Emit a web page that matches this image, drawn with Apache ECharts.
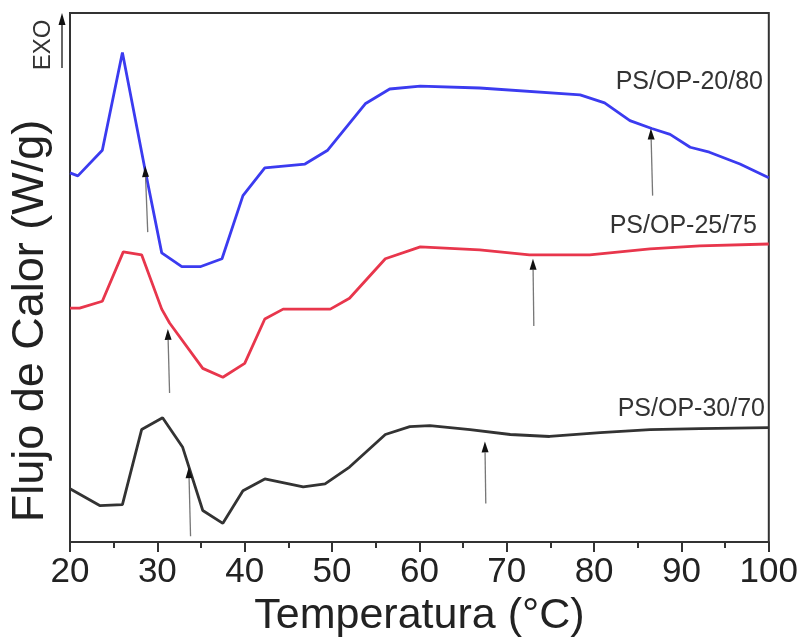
<!DOCTYPE html>
<html>
<head>
<meta charset="utf-8">
<script src="https://cdn.jsdelivr.net/npm/echarts@6/dist/echarts.min.js"></script>
<style>html,body{margin:0;padding:0;background:#fff}#c{width:801px;height:643px}</style>
</head>
<body>
<div id="c"></div>
<script>
// Temperature (°C) and heat flow (arbitrary offset units) for each sample
const tBlue  = [20.0,20.9,23.7,26.0,28.6,30.5,32.8,34.9,37.4,39.8,42.3,46.9,49.5,53.8,56.6,60.1,66.9,78.4,81.2,84.1,86.6,88.7,91.0,93.2,96.7,100];
const yBlue  = [3.74,3.71,3.97,4.96,3.77,2.93,2.79,2.79,2.87,3.51,3.79,3.83,3.97,4.44,4.59,4.62,4.60,4.53,4.45,4.27,4.19,4.13,4.00,3.95,3.83,3.69];

const tRed   = [20.0,21.1,23.7,26.1,28.2,30.5,31.4,35.2,37.5,40.0,42.3,44.4,49.8,52.0,56.1,60.1,66.9,72.6,79.5,86.4,92.1,100];
const yRed   = [2.37,2.37,2.44,2.94,2.91,2.36,2.22,1.76,1.67,1.81,2.26,2.36,2.36,2.47,2.87,2.99,2.96,2.91,2.91,2.97,3.00,3.02];

const tBlack = [20.0,23.4,26.0,28.2,30.6,32.9,35.2,37.5,39.8,42.3,46.7,49.2,52.0,56.1,58.9,61.2,65.8,70.4,74.9,80.7,86.4,92.1,100];
const yBlack = [0.54,0.37,0.38,1.14,1.26,0.96,0.32,0.19,0.52,0.64,0.56,0.59,0.76,1.09,1.17,1.18,1.14,1.09,1.07,1.11,1.14,1.15,1.16];

// Transition arrows: [tail T, tail y, head T, head y]
const arrows = [
  [28.9,3.14,28.6,3.81],
  [86.7,3.51,86.5,4.19],
  [31.4,1.51,31.2,2.16],
  [73.1,2.19,73.0,2.87],
  [33.8,0.06,33.6,0.76],
  [67.6,0.39,67.5,1.02]
];

const seriesNames = ['PS/OP-20/80','PS/OP-25/75','PS/OP-30/70'];
const xTicks = [20,30,40,50,60,70,80,90,100];

const zip = (a,b) => a.map((v,i)=>[v,b[i]]);
const FONT = '"Liberation Sans", Arial, sans-serif';

const chart = echarts.init(document.getElementById('c'));
chart.setOption({
  backgroundColor:'#fff',
  animation:false,
  grid:{left:70,right:32,top:13,bottom:94,show:true,borderColor:'#333',borderWidth:2,backgroundColor:'transparent'},
  xAxis:{
    type:'value',min:xTicks[0],max:xTicks[xTicks.length-1],interval:10,
    axisLine:{lineStyle:{color:'#333',width:2}},
    axisTick:{show:true,inside:false,length:10,lineStyle:{color:'#333',width:2}},
    minorTick:{show:true,splitNumber:2,length:6,lineStyle:{color:'#333',width:2}},
    splitLine:{show:false},
    axisLabel:{fontSize:35,color:'#222',fontFamily:FONT,margin:13},
    name:'Temperatura (°C)',nameLocation:'middle',nameGap:47,
    nameTextStyle:{fontSize:43,color:'#222',fontFamily:FONT}
  },
  yAxis:{
    type:'value',min:0,max:5.36,
    axisLine:{show:true,lineStyle:{color:'#333',width:2}},
    axisTick:{show:false},axisLabel:{show:false},splitLine:{show:false}
  },
  graphic:[
    {type:'text',x:31,y:321,rotation:Math.PI/2,style:{text:'Flujo de Calor (W/g)',font:'45px '+FONT,fill:'#222',align:'center',verticalAlign:'middle'}},
    {type:'text',x:43,y:45,rotation:Math.PI/2,style:{text:'EXO',font:'24px '+FONT,fill:'#333',align:'center',verticalAlign:'middle'}},
    {type:'line',shape:{x1:62,y1:68,x2:62,y2:24},style:{stroke:'#333',lineWidth:1.5}},
    {type:'polygon',shape:{points:[[62,13],[58.5,25],[65.5,25]]},style:{fill:'#111'}},
    {type:'text',x:763,y:82,style:{text:seriesNames[0],font:'25px '+FONT,fill:'#333',align:'right',verticalAlign:'middle'}},
    {type:'text',x:757,y:226,style:{text:seriesNames[1],font:'25px '+FONT,fill:'#333',align:'right',verticalAlign:'middle'}},
    {type:'text',x:765,y:409,style:{text:seriesNames[2],font:'25px '+FONT,fill:'#333',align:'right',verticalAlign:'middle'}}
  ],
  series:[
    {name:seriesNames[0],type:'line',data:zip(tBlue,yBlue),showSymbol:false,lineStyle:{color:'#3b3bf0',width:2.8},z:3},
    {name:seriesNames[1],type:'line',data:zip(tRed,yRed),showSymbol:false,lineStyle:{color:'#e8364c',width:2.8},z:3},
    {name:seriesNames[2],type:'line',data:zip(tBlack,yBlack),showSymbol:false,lineStyle:{color:'#333',width:2.8},z:3},
    {
      type:'custom',data:arrows,encode:{x:[0,2],y:[1,3]},z:4,
      renderItem:function(params,api){
        const p0 = api.coord([api.value(0),api.value(1)]);
        const p1 = api.coord([api.value(2),api.value(3)]);
        const dx = p1[0]-p0[0], dy = p1[1]-p0[1];
        const L = Math.sqrt(dx*dx+dy*dy), ux = dx/L, uy = dy/L;
        const hl = 11, hw = 3.5;
        const bx = p1[0]-ux*hl, by = p1[1]-uy*hl;
        return {type:'group',children:[
          {type:'line',shape:{x1:p0[0],y1:p0[1],x2:bx,y2:by},style:{stroke:'#777',lineWidth:1.3}},
          {type:'polygon',shape:{points:[[p1[0],p1[1]],[bx-uy*hw,by+ux*hw],[bx+uy*hw,by-ux*hw]]},style:{fill:'#111'}}
        ]};
      }
    }
  ]
});
</script>
</body>
</html>
